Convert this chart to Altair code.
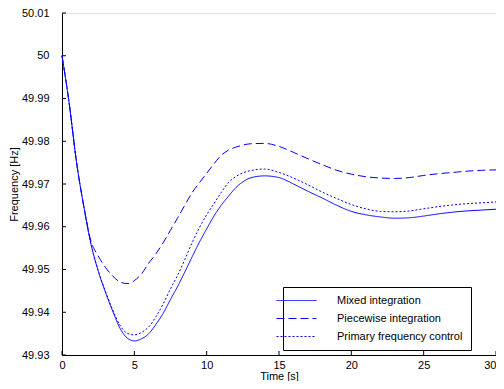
import altair as alt
import pandas as pd

time_s = [0, 0.5, 1, 1.5, 2, 2.5, 3, 3.5, 4, 4.5, 5, 5.5, 6, 6.5, 7, 7.5, 8, 8.5, 9, 9.5,
          10, 10.5, 11, 11.5, 12, 12.5, 13, 14, 15, 16, 17, 18, 19, 20, 21, 22, 23, 24,
          25, 26, 27, 28, 29, 30]

mixed = [50.000, 49.9888, 49.9752, 49.9649, 49.9560, 49.9497, 49.9447, 49.9403, 49.9363, 49.9340,
         49.9333, 49.9338, 49.9350, 49.9372, 49.9398, 49.9430, 49.9461, 49.9495, 49.9530, 49.9564,
         49.9595, 49.9625, 49.9650, 49.9671, 49.9691, 49.9705, 49.9714, 49.9719, 49.9715, 49.9700,
         49.9683, 49.9667, 49.9650, 49.9636, 49.9628, 49.9623, 49.9620, 49.9621,
         49.9625, 49.9630, 49.9634, 49.9637, 49.9639, 49.9641]

piecewise = [50.000, 49.9888, 49.9752, 49.9649, 49.9567, 49.9532, 49.9505, 49.9485, 49.9471, 49.9467,
             49.9474, 49.9490, 49.9515, 49.9537, 49.9563, 49.9592, 49.9621, 49.9651, 49.9680, 49.9703,
             49.9725, 49.9747, 49.9767, 49.9779, 49.9786, 49.9791, 49.9794, 49.9795, 49.9788, 49.9774,
             49.9759, 49.9745, 49.9732, 49.9723, 49.9717, 49.9714, 49.9713, 49.9715,
             49.9720, 49.9724, 49.9727, 49.9730, 49.9732, 49.9733]

primary = [50.000, 49.9888, 49.9752, 49.9649, 49.9560, 49.9498, 49.9449, 49.9406, 49.9370, 49.9351,
           49.9347, 49.9353, 49.9366, 49.9390, 49.9420, 49.9455, 49.9487, 49.9524, 49.9563, 49.9598,
           49.9628, 49.9654, 49.9680, 49.9703, 49.9717, 49.9726, 49.9731, 49.9735, 49.9727, 49.9714,
           49.9698, 49.9681, 49.9666, 49.9652, 49.9642, 49.9636, 49.9635, 49.9637,
           49.9642, 49.9647, 49.9651, 49.9654, 49.9656, 49.9658]

series_names = ["Mixed integration", "Piecewise integration", "Primary frequency control"]
x_ticks = [0, 5, 10, 15, 20, 25, 30]
y_ticks = [49.93, 49.94, 49.95, 49.96, 49.97, 49.98, 49.99, 50.00, 50.01]

rows = []
for name, vals in zip(series_names, [mixed, piecewise, primary]):
    for t, v in zip(time_s, vals):
        rows.append({"t": t, "f": v, "series": name})
df = pd.DataFrame(rows)

W, H = 434, 342
FONT = "Liberation Sans"

xscale = alt.Scale(domain=[0, 30], nice=False, zero=False)
yscale = alt.Scale(domain=[49.93, 50.01], nice=False, zero=False)

xaxis = alt.Axis(values=x_ticks, grid=False, ticks=False, tickSize=0, labelPadding=4,
                 domainColor="black", labelColor="black", titleColor="black",
                 labelFontSize=11, titleFontSize=11, labelFont=FONT, titleFont=FONT,
                 titleFontWeight="normal", titleY=26, titleBaseline="bottom",
                 labelAlign=alt.condition("datum.value == 30", alt.value("right"), alt.value("center")),
                 labelFlush=False)
yaxis = alt.Axis(values=y_ticks, format=".2~f", grid=False, ticks=False, tickSize=0,
                 labelPadding=13, domainColor="black", labelColor="black", titleColor="black",
                 labelFontSize=11, titleFontSize=11, labelFont=FONT, titleFont=FONT,
                 titleFontWeight="normal", titleX=-43, titleY=H / 2, titleAngle=270,
                 titleBaseline="bottom", titleAlign="center", labelFlush=False)

X = alt.X("t:Q", scale=xscale, title="Time [s]", axis=xaxis)
Y = alt.Y("f:Q", scale=yscale, title="Frequency [Hz]", axis=yaxis)

lines = alt.Chart(df).mark_line(strokeWidth=1, color="#0000ff", interpolate="monotone").encode(
    x=X, y=Y,
    strokeDash=alt.StrokeDash("series:N",
        scale=alt.Scale(domain=series_names, range=[[1, 0], [8, 4], [2, 2]]),
        legend=alt.Legend(orient="none", legendX=221, legendY=274, title=None,
                          strokeColor="black", fillColor="white", padding=8,
                          symbolType="M-4,0L4,0", symbolSize=100, symbolStrokeWidth=1,
                          symbolStrokeColor="#0000ff", labelFontSize=11, labelFont=FONT,
                          labelColor="black", labelOffset=35, rowPadding=6, cornerRadius=0)),
)

xt = alt.Chart(pd.DataFrame({"t": x_ticks})).mark_rule(color="black", strokeWidth=1).encode(
    x=X, y=alt.value(H), y2=alt.value(H - 4),
)
yt = alt.Chart(pd.DataFrame({"f": y_ticks})).mark_rule(color="black", strokeWidth=1).encode(
    y=Y, x=alt.value(0), x2=alt.value(4),
)

chart = alt.layer(lines, xt, yt).properties(
    width=W, height=H,
    padding={"left": 54, "top": 5, "right": 0, "bottom": 26},
    autosize=alt.AutoSizeParams(type="none"),
).configure_view(stroke=None).configure(background="white")

chart.save("out.html", embed_options={"renderer": "svg", "actions": False})
